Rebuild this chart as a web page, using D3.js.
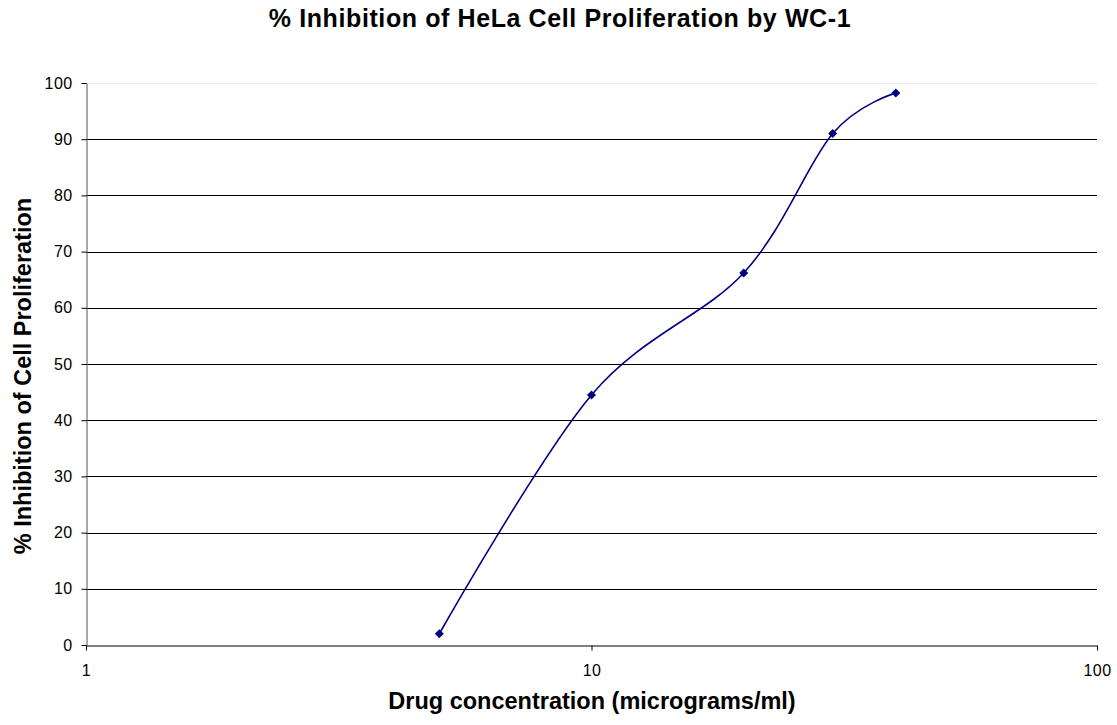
<!DOCTYPE html>
<html>
<head>
<meta charset="utf-8">
<script src="https://cdn.jsdelivr.net/npm/d3@7"></script>
<style>
  body { margin: 0; background: #fff; }
  text { font-family: "Liberation Sans", Arial, sans-serif; }
</style>
</head>
<body>
<div id="chart"></div>
<script>
// data
const concentrations = [5, 10, 20, 30, 40];
const inhibition = [2, 44.5, 66.2, 91, 98.2];
const x_ticks = [1, 10, 100];
const y_ticks = [0, 10, 20, 30, 40, 50, 60, 70, 80, 90, 100];

const W = 1117, H = 725;
const margins = { top: 83, right: 20, bottom: 79, left: 86 };

const svg = d3.select("#chart").append("svg")
  .attr("width", W).attr("height", H);

const x_scale = d3.scaleLog().domain([1, 100]).range([margins.left, W - margins.right]);
const y_scale = d3.scaleLinear().domain([0, 100]).range([H - margins.bottom - 1, margins.top]);

// gridlines
svg.append("g").selectAll("line")
  .data(y_ticks.filter(d => d > 0))
  .join("line")
  .attr("x1", margins.left).attr("x2", x_scale(100))
  .attr("y1", d => Math.round(y_scale(d)) + 0.5)
  .attr("y2", d => Math.round(y_scale(d)) + 0.5)
  .attr("stroke", d => d === 100 ? "#e8e8e8" : "#000")
  .attr("stroke-width", 1);

const style_labels = g => g.selectAll("text")
  .style("font-size", "16px").attr("fill", "#000")
  .attr("letter-spacing", 0.4)
  .style("font-family", "Liberation Sans, Arial, sans-serif");

// axes
const x_axis = d3.axisBottom(x_scale).tickValues(x_ticks).tickFormat(d3.format("d"))
  .tickSize(5).tickSizeOuter(0).tickPadding(14);
const y_axis = d3.axisLeft(y_scale).tickValues(y_ticks)
  .tickSize(5).tickSizeOuter(0).tickPadding(9);

svg.append("g")
  .attr("transform", `translate(0, ${Math.round(y_scale(0)) + 0.5})`)
  .call(x_axis)
  .call(g => g.select(".domain").attr("stroke", "#000"))
  .call(style_labels);

svg.append("g")
  .attr("transform", `translate(${margins.left + 0.5}, 0)`)
  .call(y_axis)
  .call(g => g.select(".domain").attr("stroke", "#555"))
  .call(style_labels);

// smoothed line
const points = concentrations.map((c, i) => [c, inhibition[i]]);
const line = d3.line()
  .x(d => x_scale(d[0]))
  .y(d => y_scale(d[1]))
  .curve(d3.curveCardinal.tension(0));

svg.append("path")
  .datum(points)
  .attr("d", line)
  .attr("fill", "none")
  .attr("stroke", "#000080")
  .attr("stroke-width", 1.6);

// diamond markers
svg.append("g").selectAll("path")
  .data(points)
  .join("path")
  .attr("transform", d => `translate(${x_scale(d[0])}, ${y_scale(d[1])})`)
  .attr("d", "M0,-4.5L4.5,0L0,4.5L-4.5,0Z")
  .attr("fill", "#000080");

// titles
svg.append("text")
  .attr("x", 560).attr("y", 27)
  .attr("text-anchor", "middle")
  .attr("font-size", 25).attr("font-weight", "bold")
  .attr("letter-spacing", 0.6)
  .text("% Inhibition of HeLa Cell Proliferation by WC-1");

svg.append("text")
  .attr("x", 592).attr("y", 709)
  .attr("text-anchor", "middle")
  .attr("font-size", 23.5).attr("font-weight", "bold")
  .text("Drug concentration (micrograms/ml)");

svg.append("text")
  .attr("transform", "translate(31, 376) rotate(-90)")
  .attr("text-anchor", "middle")
  .attr("font-size", 23.5).attr("font-weight", "bold")
  .text("% Inhibition of Cell Proliferation");
</script>
</body>
</html>
